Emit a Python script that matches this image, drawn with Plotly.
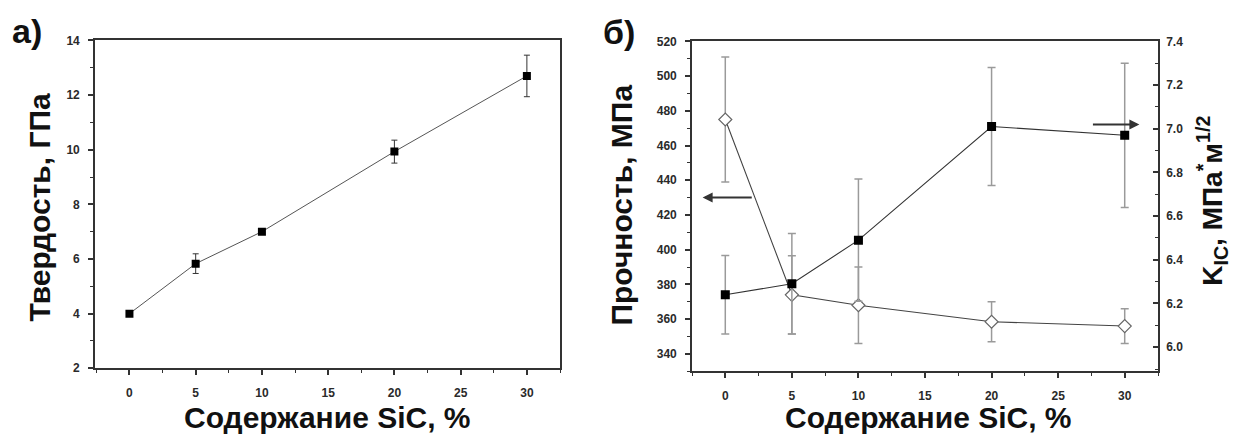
import plotly.graph_objects as go

# SiC content, %
sic = [0, 5, 10, 20, 30]

# (а) hardness, GPa
hardness = [4.0, 5.83, 7.0, 9.93, 12.7]
hardness_err = [0.08, 0.36, 0.08, 0.42, 0.76]

# (б) bending strength, MPa (left axis)
strength = [475, 374, 368, 358.5, 356]
strength_err = [36, 22.5, 22, 11.5, 10]

# (б) fracture toughness K_IC, MPa*m^1/2 (right axis)
kic = [6.24, 6.29, 6.49, 7.01, 6.97]
kic_err = [0.18, 0.23, 0.28, 0.27, 0.33]

x_ticks = [0, 5, 10, 15, 20, 25, 30]
hardness_ticks = [2, 4, 6, 8, 10, 12, 14]
strength_ticks = [340, 360, 380, 400, 420, 440, 460, 480, 500, 520]
kic_ticks = [6.0, 6.2, 6.4, 6.6, 6.8, 7.0, 7.2, 7.4]

W, H = 1238, 446
FONT = "Arial, Liberation Sans, sans-serif"
AX = "#333333"


def px_x(p):
    return p / W


def px_y(p):
    return 1 - p / H


tick_font = dict(family=FONT, size=12, color="#2a2a2a", weight="bold")
title_font = dict(family=FONT, size=30, color="#111111", weight="bold")

base_axis = dict(
    showline=True, linecolor=AX, linewidth=1.6,
    showgrid=False, zeroline=False,
    ticks="outside", ticklen=5, tickwidth=1.5, tickcolor=AX,
    tickfont=tick_font,
)

fig = go.Figure()

# panel а
fig.add_trace(go.Scatter(
    x=sic, y=hardness, mode="lines+markers",
    line=dict(color="#555555", width=1),
    marker=dict(symbol="square", size=8, color="#000000"),
    error_y=dict(type="data", array=hardness_err, color="#333333",
                 thickness=1, width=3),
    xaxis="x", yaxis="y", showlegend=False,
))

# panel б: strength
fig.add_trace(go.Scatter(
    x=sic, y=strength, mode="lines+markers",
    line=dict(color="#444444", width=1.1),
    marker=dict(symbol="diamond", size=10, color="white",
                line=dict(color="#666666", width=1.2)),
    error_y=dict(type="data", array=strength_err, color="#9a9a9a",
                 thickness=1.5, width=4),
    xaxis="x2", yaxis="y2", showlegend=False,
))

# panel б: K_IC
fig.add_trace(go.Scatter(
    x=sic, y=kic, mode="lines+markers",
    line=dict(color="#333333", width=1.1),
    marker=dict(symbol="square", size=9, color="#000000"),
    error_y=dict(type="data", array=kic_err, color="#9a9a9a",
                 thickness=1.5, width=4),
    xaxis="x2", yaxis="y3", showlegend=False,
))

fig.update_layout(
    width=W, height=H,
    margin=dict(l=0, r=0, t=0, b=0),
    paper_bgcolor="white", plot_bgcolor="white",
    xaxis=dict(base_axis, domain=[px_x(95), px_x(560)], range=[-2.6, 32.5],
               tickvals=x_ticks, mirror=True, anchor="y",
               ticklabelstandoff=8,
               minor=dict(dtick=2.5, tick0=0, ticks="outside", ticklen=3,
                          tickwidth=1, tickcolor=AX)),
    yaxis=dict(base_axis, domain=[px_y(373), px_y(34.5)], range=[2, 14],
               tickvals=hardness_ticks, mirror=True, anchor="x",
               ticklabelstandoff=6,
               minor=dict(dtick=1, tick0=0, ticks="outside", ticklen=3,
                          tickwidth=1, tickcolor=AX)),
    xaxis2=dict(base_axis, domain=[px_x(692), px_x(1158)], range=[-2.5, 32.5],
                tickvals=x_ticks, mirror=True, anchor="y2",
                ticklabelstandoff=8,
                minor=dict(dtick=2.5, tick0=0, ticks="outside", ticklen=3,
                           tickwidth=1, tickcolor=AX)),
    yaxis2=dict(base_axis, domain=[px_y(376), px_y(35.5)], range=[330, 520],
                tickvals=strength_ticks, anchor="x2", side="left",
                ticklabelstandoff=6,
                minor=dict(dtick=10, tick0=0, ticks="outside", ticklen=3,
                           tickwidth=1, tickcolor=AX)),
    yaxis3=dict(base_axis, range=[5.89, 7.4], overlaying="y2", anchor="x2",
                side="right", tickvals=kic_ticks, tickformat=".1f",
                ticks="inside", ticklabelstandoff=4,
                minor=dict(dtick=0.1, tick0=0, ticks="inside", ticklen=3,
                           tickwidth=1, tickcolor=AX)),
)

annotations = [
    # panel letters
    dict(text="а)", x=px_x(27), y=px_y(25), xref="paper", yref="paper",
         showarrow=False, xanchor="center", yanchor="middle",
         font=dict(family=FONT, size=34, color="#111111", weight="bold")),
    dict(text="б)", x=px_x(619), y=px_y(26), xref="paper", yref="paper",
         showarrow=False, xanchor="center", yanchor="middle",
         font=dict(family=FONT, size=34, color="#111111", weight="bold")),
    # axis titles
    dict(text="Твердость, ГПа", x=px_x(40), y=px_y(207), xref="paper",
         yref="paper", showarrow=False, textangle=-90, xanchor="center",
         yanchor="middle", font=title_font),
    dict(text="Содержание SiC, %", x=px_x(327), y=px_y(424), xref="paper",
         yref="paper", showarrow=False, xanchor="center", yanchor="middle",
         font=title_font),
    dict(text="Прочность, МПа", x=px_x(622), y=px_y(205), xref="paper",
         yref="paper", showarrow=False, textangle=-90, xanchor="center",
         yanchor="middle", font=title_font),
    dict(text="Содержание SiC, %", x=px_x(928), y=px_y(424), xref="paper",
         yref="paper", showarrow=False, xanchor="center", yanchor="middle",
         font=title_font),
    dict(text="K<sub>IC</sub>, МПа<sup>*</sup>м<sup>1/2</sup>",
         x=px_x(1212), y=px_y(200), xref="paper", yref="paper",
         showarrow=False, textangle=-90, xanchor="center", yanchor="middle",
         font=dict(family=FONT, size=28, color="#111111", weight="bold")),
    # arrows pointing to the axis of each curve
    dict(text="", x=-1.7, y=430, ax=2.1, ay=430, xref="x2", yref="y2",
         axref="x2", ayref="y2", showarrow=True, arrowhead=2,
         arrowsize=1, arrowwidth=2, arrowcolor="#333333"),
    dict(text="", x=31.1, y=7.02, ax=27.5, ay=7.02, xref="x2", yref="y3",
         axref="x2", ayref="y3", showarrow=True, arrowhead=2,
         arrowsize=1, arrowwidth=2, arrowcolor="#333333"),
]
fig.update_layout(annotations=annotations)

fig.write_html("out.html")
